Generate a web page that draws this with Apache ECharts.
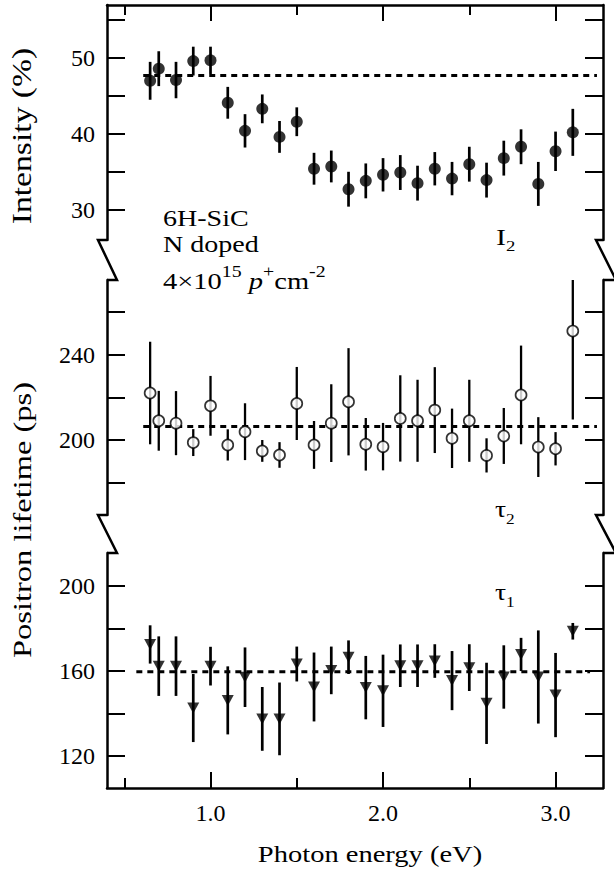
<!DOCTYPE html>
<html><head><meta charset="utf-8">
<script src="https://cdn.jsdelivr.net/npm/echarts@6/dist/echarts.min.js"></script>
<style>html,body{margin:0;padding:0;background:#fff}#c{width:614px;height:875px}</style>
</head><body><div id="c"></div>
<script>
// ---- data ----
const energy = [0.65,0.7,0.8,0.9,1.0,1.1,1.2,1.3,1.4,1.5,1.6,1.7,1.8,1.9,2.0,2.1,2.2,2.3,2.4,2.5,2.6,2.7,2.8,2.9,3.0,3.1];
const intensityI2 = [47.0,48.6,47.1,49.6,49.7,44.1,40.4,43.3,39.6,41.6,35.4,35.7,32.7,33.8,34.6,34.9,33.5,35.4,34.1,36.0,33.9,36.8,38.3,33.4,37.7,40.2];
const intensityErr = [2.5,2.3,2.4,1.9,1.8,2.1,2.2,1.9,2.1,1.9,2.1,2.1,2.3,2.3,2.2,2.3,2.3,2.2,2.2,2.3,2.3,2.3,2.3,2.9,2.6,3.1];
const tau2 = [222.1,209.1,208.0,198.9,216.1,197.8,204.0,195.0,193.1,217.2,197.8,208.0,218.0,198.1,197.0,210.2,209.1,214.1,200.9,209.1,192.9,202.0,221.2,196.8,196.0,251.1];
const tau2Err = [24,14,15,6.3,14,7.3,13.3,5.1,6,17.1,11.2,18.2,25.1,12.3,11.1,20.2,19.2,20.1,13.9,19.2,8,13.1,23.1,14,7.8,41.4];
const tau1 = [172.5,162.3,162.3,142.6,162.3,146.2,157.1,137.5,137.5,163.3,152.5,160.3,166.5,152.2,150.7,162.5,162.5,164.7,155.5,161.6,144.8,157.2,167.8,157.2,148.7,178.7];
const tau1Err = [9.0,14.0,14.0,16.0,9.1,16.0,14.0,15.0,17.1,8.2,16.2,11.2,7.9,14.9,17.0,10.0,10.0,7.9,13.9,11.0,19.1,14.9,7.8,21.9,19.8,3.9];
const fitI2 = 47.7, fitTau2 = 206.4, fitTau1 = 159.7;
const fitSpanI2 = [0.61, 3.24], fitSpanTau2 = [0.61, 3.24], fitSpanTau1 = [0.57, 3.2];
const xMajorTicks = [1.0, 2.0, 3.0];
const xMinorTicks = [0.5, 1.5, 2.5];
const yTicksI = [30,35,40,45,50,55], yLabelsI = [30,40,50];
const yTicksT2 = [180,200,220,240,260], yLabelsT2 = [200,240];
const yTicksT1 = [120,140,160,180,200], yLabelsT1 = [120,160,200];

// ---- layout ----
const W = 614, L = 107, R = 11;
const X_MIN = 0.4, X_MAX = 3.275;
const panels = [
  {top:5,   h:235, min:26,  max:57,    ticks:yTicksI,  labels:yLabelsI,  vals:intensityI2, errs:intensityErr, fit:fitI2,   span:fitSpanI2,   mark:'filled'},
  {top:280, h:235, min:165, max:275,   ticks:yTicksT2, labels:yLabelsT2, vals:tau2,        errs:tau2Err,      fit:fitTau2, span:fitSpanTau2, mark:'open'},
  {top:553, h:235, min:105, max:215.5, ticks:yTicksT1, labels:yLabelsT1, vals:tau1,        errs:tau1Err,      fit:fitTau1, span:fitSpanTau1, mark:'tri'}
];
const FONT = "'Liberation Serif','Times New Roman',serif";
const LW = 2.5;
const black = '#000';

const grid = panels.map(p => ({left:L, right:R, top:p.top, height:p.h, outerBoundsMode:'none'}));

const xAxis = [];
const xIndexOf = [];
panels.forEach((p, i) => {
  const base = {gridIndex:i, type:'value', min:X_MIN, max:X_MAX, splitLine:{show:false}};
  xIndexOf.push(xAxis.length);
  if (i === 1) { xAxis.push(Object.assign({}, base, {show:false})); return; }
  const pos = i === 0 ? 'top' : 'bottom';
  xAxis.push(Object.assign({}, base, {
    position:pos,
    axisLine:{show:true, onZero:false, lineStyle:{color:black, width:LW}},
    axisTick:{show:true, inside:true, length:16, customValues:xMajorTicks, lineStyle:{color:black, width:2}},
    axisLabel:i === 2 ? {show:true, customValues:xMajorTicks, formatter:v => Number(v).toFixed(1), fontSize:24, fontFamily:FONT, color:black, margin:13} : {show:false}
  }));
  xAxis.push(Object.assign({}, base, {
    position:pos,
    axisLine:{show:false, onZero:false},
    axisTick:{show:true, inside:true, length:10, customValues:xMinorTicks, lineStyle:{color:black, width:2}},
    axisLabel:{show:false}
  }));
});

const yAxis = [];
panels.forEach((p, i) => {
  ['left','right'].forEach(side => {
    yAxis.push({
      gridIndex:i, type:'value', min:p.min, max:p.max, position:side,
      splitLine:{show:false},
      axisLine:{show:true, onZero:false, lineStyle:{color:black, width:LW}},
      axisTick:{show:true, inside:true, length:18, customValues:p.ticks, lineStyle:{color:black, width:2}},
      axisLabel:side === 'left' ? {show:true, customValues:p.labels, fontSize:24, fontFamily:FONT, color:black, margin:12} : {show:false}
    });
  });
});

const series = [];
panels.forEach((p, i) => {
  const xi = xIndexOf[i], yi = 2 * i;
  series.push({
    type:'line', xAxisIndex:xi, yAxisIndex:yi, silent:true, symbol:'none', z:1,
    data:[[p.span[0], p.fit], [p.span[1], p.fit]],
    lineStyle:{color:black, width:3, type:[6,5]}
  });
  series.push({
    type:'custom', xAxisIndex:xi, yAxisIndex:yi, clip:true, silent:true, z:2,
    data:energy.map((x, k) => [x, p.vals[k] - p.errs[k], p.vals[k] + p.errs[k]]),
    encode:{x:0, y:[1,2]},
    renderItem:(params, api) => {
      const a = api.coord([api.value(0), api.value(1)]);
      const b = api.coord([api.value(0), api.value(2)]);
      return {type:'line', shape:{x1:a[0], y1:a[1], x2:b[0], y2:b[1]}, style:{stroke:black, lineWidth:p.mark === 'open' ? 2.3 : 2.7}};
    }
  });
  const sc = {type:'scatter', xAxisIndex:xi, yAxisIndex:yi, silent:true, z:3, data:energy.map((x, k) => [x, p.vals[k]])};
  if (p.mark === 'filled') Object.assign(sc, {symbol:'circle', symbolSize:12, itemStyle:{color:black}});
  if (p.mark === 'open') Object.assign(sc, {symbol:'circle', symbolSize:11, itemStyle:{color:'#fff', borderColor:black, borderWidth:1.7}});
  if (p.mark === 'tri') Object.assign(sc, {symbol:'triangle', symbolRotate:180, symbolSize:[12,11], itemStyle:{color:black}});
  series.push(sc);
});

// axis breaks
const graphic = [];
for (let b = 0; b < 2; b++) {
  const yA = panels[b].top + panels[b].h, yB = panels[b + 1].top;
  const xr = W - R;
  graphic.push({type:'polyline', shape:{points:[[L, yA], [L - 9, yA], [L + 10, yB], [L, yB]]}, style:{stroke:black, lineWidth:LW, fill:null}});
  graphic.push({type:'polyline', shape:{points:[[xr, yA], [xr - 7, yA], [xr + 13, yB], [xr, yB]]}, style:{stroke:black, lineWidth:LW, fill:null}});
}
function txt(x, y, text, size, opts) {
  opts = opts || {};
  const style = Object.assign({text:text, fontSize:size, fontFamily:FONT, fill:black,
    align:opts.align || 'left', verticalAlign:'middle', textAlign:opts.align || 'left', textVerticalAlign:'middle'}, opts.style || {});
  return {type:'text', x:x, y:y, rotation:opts.rotation || 0, scaleX:opts.sx || 1.2, style:style, z:10};
}
const sub = {fontSize:15, fontFamily:FONT, verticalAlign:'bottom', lineHeight:15};
const sup = {fontSize:16, fontFamily:FONT, verticalAlign:'top', lineHeight:16};
const mainTok = {fontSize:24, fontFamily:FONT, lineHeight:34};
graphic.push(txt(22, 136, 'Intensity (%)', 26.5, {align:'center', rotation:Math.PI/2, sx:1.27}));
graphic.push(txt(22, 520, 'Positron lifetime (ps)', 26, {align:'center', rotation:Math.PI/2, sx:1.25}));
graphic.push(txt(370, 854, 'Photon energy (eV)', 23, {align:'center', sx:1.24}));
graphic.push(txt(163, 218, '6H-SiC', 23, {sx:1.22}));
graphic.push(txt(163, 244, 'N doped', 23, {sx:1.22}));
graphic.push(txt(163, 281, '4×10{sup|15} {it|p}{sup|+}cm{sup|-2}', 23, {sx:1.24, style:{lineHeight:34, rich:{sup:sup, it:{fontSize:23, fontFamily:FONT, fontStyle:'italic'}}}}));
graphic.push(txt(496, 237, '{m|I}{s|2}', 24, {sx:1.25, style:{rich:{m:mainTok, s:sub}}}));
graphic.push(txt(495, 509, '{m|τ}{s|2}', 24, {sx:1.15, style:{rich:{m:mainTok, s:sub}}}));
graphic.push(txt(495, 592, '{m|τ}{s|1}', 24, {sx:1.15, style:{rich:{m:mainTok, s:sub}}}));

const chart = echarts.init(document.getElementById('c'), null, {renderer:'svg'});
chart.setOption({animation:false, backgroundColor:'#fff', grid, xAxis, yAxis, series, graphic});
</script>
</body></html>
